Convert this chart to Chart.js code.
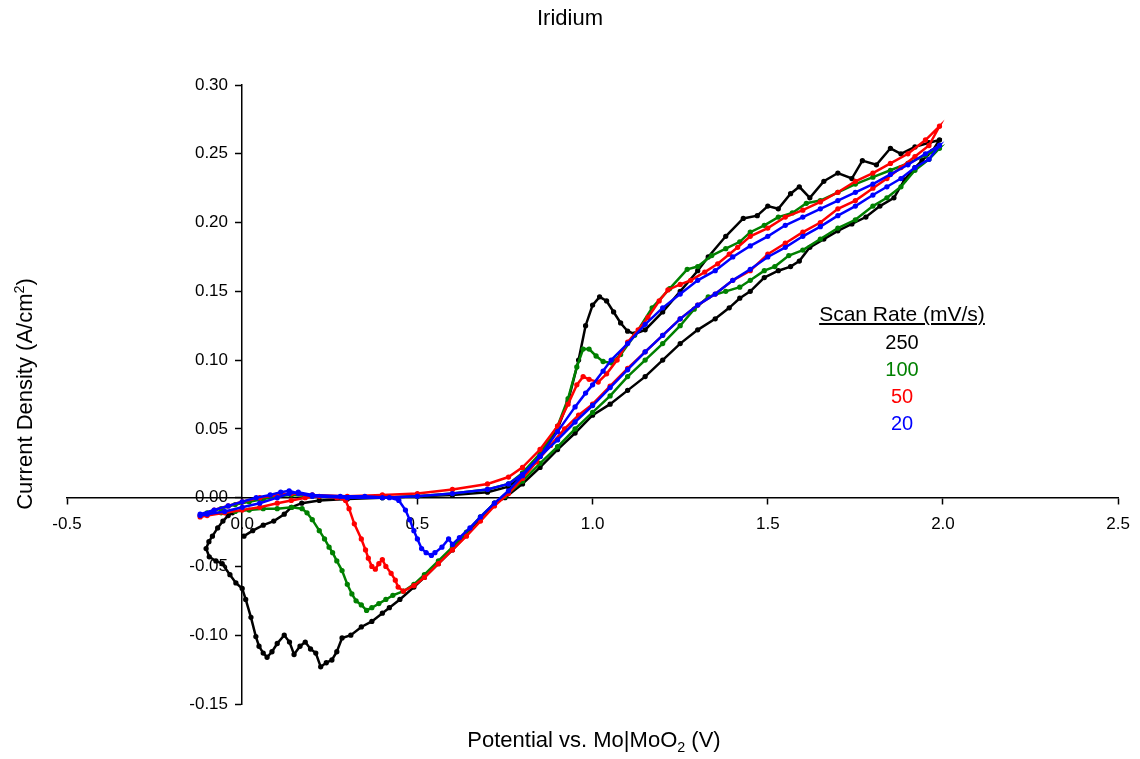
<!DOCTYPE html>
<html lang="en">
<head>
  <meta charset="UTF-8" />
  <title>Iridium</title>
  <style>
    body {
      margin: 0;
      background: #fff;
      font-family: "Liberation Sans", Arial, sans-serif;
    }
    #wrap { position: relative; width: 1140px; height: 759px; }
    .lbl { position: absolute; color: #000; white-space: nowrap; text-align: center; }
    #title  { left: 470px; width: 200px; top: 5px; font-size: 22px; }
    #xtitle { left: 394px; width: 400px; top: 727px; font-size: 22px; }
    #ytitle { left: -125px; width: 300px; top: 381px; font-size: 22px; transform: rotate(-90deg); }
    #legend { left: 802px; width: 200px; top: 302px; }
    #legend .head { font-size: 21px; text-decoration: underline; line-height: 24px; margin-bottom: 3px; }
    #legend .row { font-size: 20px; line-height: 27px; }
    sub, sup { font-size: 65%; line-height: 0; }
  </style>
  <script src="https://cdn.jsdelivr.net/npm/chart.js"></script>
</head>
<body>
  <div id="wrap">
    <canvas id="chart" width="1140" height="759"></canvas>
    <div class="lbl" id="title">Iridium</div>
    <div class="lbl" id="xtitle">Potential vs. Mo|MoO<sub>2</sub> (V)</div>
    <div class="lbl" id="ytitle">Current Density (A/cm<sup>2</sup>)</div>
    <div class="lbl" id="legend">
      <div class="head">Scan Rate (mV/s)</div>
      <div class="row" style="color:#000">250</div>
      <div class="row" style="color:#008000">100</div>
      <div class="row" style="color:#ff0000">50</div>
      <div class="row" style="color:#0000ff">20</div>
    </div>
  </div>

  <script>
    // potential (V) vs. current density (A/cm2), in scan order
    const scan250 = [
      [0.005,-0.028],[0.03,-0.024],[0.06,-0.02],[0.09,-0.017],[0.12,-0.012],[0.14,-0.007],[0.17,-0.004],
      [0.22,-0.002],[0.3,-0.001],[0.4,0.0],[0.5,0.001],[0.6,0.002],[0.7,0.004],[0.76,0.008],[0.8,0.016],
      [0.85,0.03],[0.9,0.05],[0.93,0.07],[0.96,0.1],[0.98,0.125],[1.0,0.14],[1.02,0.146],[1.04,0.143],
      [1.06,0.135],[1.08,0.127],[1.1,0.121],[1.12,0.119],[1.15,0.122],[1.2,0.135],[1.25,0.15],[1.3,0.165],
      [1.33,0.175],[1.38,0.19],[1.43,0.203],[1.47,0.205],[1.5,0.212],[1.53,0.21],[1.565,0.221],[1.59,0.226],
      [1.62,0.218],[1.66,0.23],[1.7,0.236],[1.74,0.232],[1.77,0.245],[1.81,0.242],[1.85,0.254],[1.88,0.25],
      [1.92,0.255],[1.96,0.258],[1.99,0.26],
      [1.97,0.252],[1.94,0.245],[1.92,0.24],[1.89,0.231],[1.86,0.218],[1.82,0.212],[1.78,0.204],[1.74,0.199],
      [1.7,0.194],[1.66,0.188],[1.62,0.182],[1.59,0.172],[1.565,0.168],[1.53,0.165],[1.49,0.16],[1.45,0.15],
      [1.42,0.145],[1.39,0.138],[1.35,0.13],[1.3,0.122],[1.25,0.112],[1.2,0.1],[1.15,0.088],[1.1,0.078],
      [1.05,0.068],[1.0,0.06],[0.95,0.047],[0.9,0.035],[0.85,0.022],[0.8,0.01],[0.75,0.0],[0.72,-0.004],
      [0.68,-0.015],[0.64,-0.027],[0.6,-0.038],[0.56,-0.048],[0.52,-0.058],[0.49,-0.065],[0.45,-0.074],
      [0.42,-0.08],[0.4,-0.084],[0.37,-0.09],[0.34,-0.094],[0.31,-0.1],[0.285,-0.102],[0.27,-0.112],
      [0.256,-0.118],[0.24,-0.12],[0.224,-0.123],[0.21,-0.113],[0.195,-0.11],[0.18,-0.105],[0.165,-0.108],
      [0.148,-0.114],[0.135,-0.105],[0.12,-0.1],[0.1,-0.106],[0.085,-0.112],[0.071,-0.116],[0.06,-0.113],
      [0.048,-0.108],[0.039,-0.101],[0.025,-0.087],[0.01,-0.074],[0.0,-0.066],[-0.018,-0.062],[-0.035,-0.056],
      [-0.057,-0.048],[-0.075,-0.046],[-0.094,-0.043],[-0.103,-0.037],[-0.095,-0.032],[-0.085,-0.028],
      [-0.07,-0.022],[-0.055,-0.017],[-0.04,-0.013],[-0.028,-0.011]
    ];
    const scan100 = [
      [-0.1,-0.011],[-0.06,-0.008],[-0.02,-0.005],[0.02,-0.003],[0.06,-0.001],[0.1,0.001],[0.14,0.002],
      [0.2,0.001],[0.3,0.0],[0.4,0.0],[0.5,0.001],[0.6,0.003],[0.7,0.006],[0.76,0.01],[0.8,0.018],
      [0.85,0.032],[0.9,0.052],[0.93,0.072],[0.955,0.095],[0.973,0.108],[0.99,0.108],[1.01,0.103],
      [1.03,0.099],[1.053,0.098],[1.08,0.104],[1.12,0.118],[1.17,0.138],[1.22,0.152],[1.27,0.166],
      [1.3,0.168],[1.34,0.176],[1.38,0.181],[1.42,0.186],[1.45,0.193],[1.49,0.198],[1.53,0.204],
      [1.57,0.207],[1.61,0.214],[1.65,0.216],[1.7,0.222],[1.75,0.228],[1.8,0.233],[1.85,0.238],
      [1.9,0.243],[1.95,0.249],[1.99,0.254],
      [1.96,0.246],[1.92,0.238],[1.88,0.226],[1.84,0.218],[1.8,0.212],[1.75,0.202],[1.7,0.196],
      [1.65,0.188],[1.6,0.18],[1.56,0.176],[1.52,0.168],[1.49,0.165],[1.45,0.158],[1.42,0.153],
      [1.38,0.15],[1.33,0.146],[1.29,0.137],[1.25,0.125],[1.2,0.112],[1.15,0.1],[1.1,0.088],[1.05,0.074],
      [1.0,0.062],[0.95,0.05],[0.9,0.037],[0.85,0.025],[0.8,0.012],[0.75,0.001],[0.72,-0.004],
      [0.68,-0.014],[0.64,-0.025],[0.6,-0.036],[0.56,-0.046],[0.52,-0.056],[0.49,-0.063],[0.46,-0.068],
      [0.43,-0.071],[0.41,-0.074],[0.39,-0.077],[0.37,-0.08],[0.355,-0.082],[0.34,-0.078],[0.325,-0.075],
      [0.313,-0.07],[0.3,-0.063],[0.285,-0.053],[0.27,-0.046],[0.258,-0.04],[0.248,-0.036],[0.235,-0.03],
      [0.22,-0.024],[0.2,-0.016],[0.185,-0.011],[0.171,-0.008],[0.142,-0.007],[0.1,-0.008],[0.06,-0.008],
      [0.02,-0.009],[-0.02,-0.01],[-0.06,-0.011],[-0.1,-0.012]
    ];
    const scan50 = [
      [-0.12,-0.013],[-0.08,-0.009],[-0.04,-0.006],[0.0,-0.003],[0.05,0.0],[0.1,0.002],[0.14,0.003],
      [0.2,0.002],[0.3,0.001],[0.4,0.002],[0.5,0.003],[0.6,0.006],[0.7,0.01],[0.76,0.015],[0.8,0.022],
      [0.85,0.035],[0.9,0.052],[0.93,0.068],[0.955,0.082],[0.973,0.088],[0.99,0.086],[1.016,0.084],
      [1.04,0.09],[1.07,0.1],[1.1,0.113],[1.13,0.122],[1.158,0.131],[1.19,0.143],[1.215,0.151],
      [1.25,0.155],[1.28,0.158],[1.32,0.164],[1.357,0.17],[1.39,0.177],[1.414,0.182],[1.45,0.19],
      [1.5,0.196],[1.55,0.204],[1.6,0.209],[1.65,0.215],[1.7,0.222],[1.75,0.23],[1.8,0.236],
      [1.85,0.243],[1.9,0.25],[1.95,0.26],[1.99,0.27],
      [1.96,0.256],[1.92,0.248],[1.88,0.24],[1.84,0.232],[1.8,0.225],[1.75,0.216],[1.7,0.21],[1.65,0.2],
      [1.6,0.193],[1.55,0.185],[1.5,0.177],[1.45,0.165],[1.4,0.158],[1.35,0.148],[1.3,0.14],[1.25,0.13],
      [1.2,0.118],[1.15,0.106],[1.1,0.094],[1.05,0.081],[1.0,0.068],[0.96,0.06],[0.92,0.05],[0.88,0.038],
      [0.84,0.026],[0.8,0.014],[0.76,0.003],[0.72,-0.006],[0.68,-0.017],[0.64,-0.028],[0.6,-0.038],
      [0.56,-0.048],[0.52,-0.058],[0.49,-0.064],[0.46,-0.068],[0.445,-0.065],[0.437,-0.06],[0.425,-0.055],
      [0.41,-0.05],[0.4,-0.045],[0.39,-0.048],[0.38,-0.052],[0.37,-0.05],[0.36,-0.044],[0.352,-0.038],
      [0.34,-0.03],[0.32,-0.019],[0.305,-0.008],[0.295,-0.002],[0.27,0.0],[0.22,0.001],[0.18,0.0],
      [0.14,-0.002],[0.1,-0.004],[0.05,-0.007],[0.0,-0.009],[-0.05,-0.011],[-0.1,-0.013],[-0.12,-0.014]
    ];
    const scan20 = [
      [-0.12,-0.012],[-0.08,-0.009],[-0.04,-0.006],[0.0,-0.003],[0.04,0.0],[0.08,0.002],[0.11,0.004],
      [0.134,0.005],[0.16,0.003],[0.2,0.001],[0.3,0.0],[0.4,0.0],[0.5,0.001],[0.6,0.003],[0.7,0.006],
      [0.76,0.01],[0.8,0.017],[0.85,0.03],[0.9,0.048],[0.95,0.066],[0.98,0.076],[1.0,0.082],[1.03,0.092],
      [1.053,0.1],[1.1,0.112],[1.15,0.126],[1.2,0.138],[1.25,0.148],[1.3,0.158],[1.35,0.165],[1.4,0.175],
      [1.45,0.183],[1.5,0.19],[1.55,0.198],[1.6,0.204],[1.65,0.21],[1.7,0.216],[1.75,0.222],[1.8,0.228],
      [1.85,0.235],[1.9,0.242],[1.95,0.25],[1.99,0.256],
      [1.96,0.246],[1.92,0.24],[1.88,0.232],[1.84,0.226],[1.8,0.22],[1.75,0.212],[1.7,0.205],[1.65,0.197],
      [1.6,0.19],[1.55,0.182],[1.5,0.175],[1.45,0.166],[1.4,0.158],[1.35,0.148],[1.3,0.14],[1.25,0.13],
      [1.2,0.118],[1.15,0.106],[1.1,0.093],[1.05,0.08],[1.0,0.067],[0.95,0.055],[0.9,0.042],[0.85,0.03],
      [0.8,0.016],[0.76,0.005],[0.72,-0.004],[0.68,-0.014],[0.65,-0.022],[0.62,-0.029],[0.6,-0.034],
      [0.589,-0.03],[0.57,-0.036],[0.55,-0.04],[0.54,-0.042],[0.525,-0.04],[0.512,-0.037],[0.5,-0.03],
      [0.49,-0.024],[0.478,-0.016],[0.466,-0.009],[0.447,-0.002],[0.42,0.0],[0.35,0.001],[0.28,0.001],
      [0.2,0.002],[0.16,0.004],[0.134,0.003],[0.1,0.0],[0.05,-0.004],[0.0,-0.007],[-0.05,-0.01],
      [-0.1,-0.012],[-0.12,-0.013]
    ];

    const rateLabels = ["250", "100", "50", "20"];
    const rateColors = ["#000000", "#008000", "#ff0000", "#0000ff"];
    const rateScans = [scan250, scan100, scan50, scan20];

    const tickFont = { family: "Liberation Sans", size: 17 };

    new Chart(document.getElementById("chart"), {
      type: "scatter",
      data: {
        datasets: rateScans.map((scan, i) => ({
          label: rateLabels[i],
          data: scan.map(p => ({ x: p[0], y: p[1] })),
          showLine: true,
          borderColor: rateColors[i],
          backgroundColor: rateColors[i],
          borderWidth: 2.5,
          pointRadius: 1.4,
          pointHoverRadius: 1.4,
          order: rateScans.length - i
        }))
      },
      options: {
        responsive: false,
        animation: false,
        layout: { padding: { left: 67, right: 17, top: 85, bottom: 55 } },
        plugins: { legend: { display: false }, tooltip: { enabled: false } },
        scales: {
          x: {
            type: "linear",
            min: -0.5, max: 2.5,
            position: { y: 0 },
            afterFit: s => { s.height = 0; },
            grid: { drawOnChartArea: false, color: "#000", tickLength: 6, tickWidth: 1.5 },
            border: { color: "#000", width: 1.5 },
            ticks: { stepSize: 0.5, color: "#000", font: tickFont, padding: 10, maxRotation: 0,
                     callback: v => v.toFixed(1) }
          },
          y: {
            type: "linear",
            min: -0.15, max: 0.30,
            position: { x: 0 },
            afterFit: s => { s.width = 0; },
            grid: { drawOnChartArea: false, color: "#000", tickLength: 6, tickWidth: 1.5 },
            border: { color: "#000", width: 1.5 },
            // labels of an axis placed at x = 0 sit on the line, so pad them with spaces
            ticks: { stepSize: 0.05, color: "#000", font: tickFont,
                     callback: v => v.toFixed(2) + "   " }
          }
        }
      }
    });
  </script>
</body>
</html>
